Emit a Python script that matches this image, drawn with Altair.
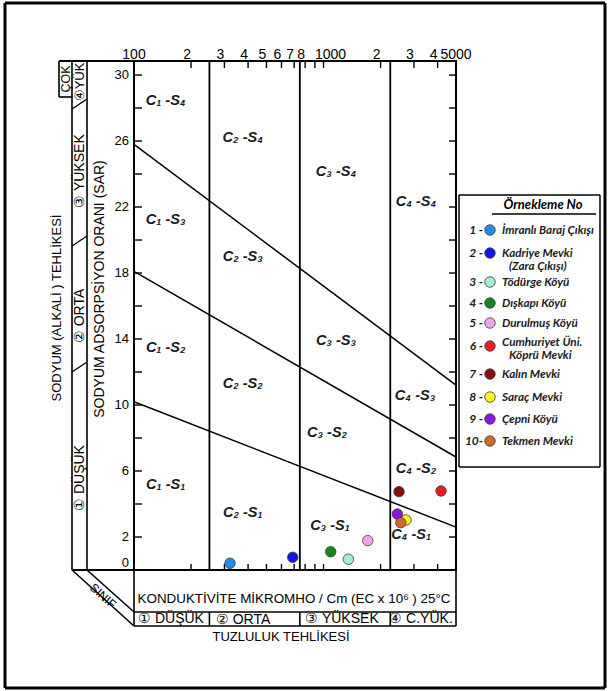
import altair as alt
import pandas as pd

# ---------------- values ----------------
sample_no = [1, 2, 3, 4, 5, 6, 7, 8, 9, 10]
site_names = ["İmranlı Baraj Çıkışı", "Kadriye Mevki (Zara Çıkışı)", "Tödürge Köyü",
              "Dışkapı Köyü", "Durulmuş Köyü", "Cumhuriyet Üni. Köprü Mevki",
              "Kalın Mevki", "Saraç Mevki", "Çepni Köyü", "Tekmen Mevki"]
legend_line1 = ["İmranlı Baraj Çıkışı", "Kadriye Mevki", "Tödürge Köyü", "Dışkapı Köyü",
                "Durulmuş Köyü", "Cumhuriyet Üni.", "Kalın Mevki", "Saraç Mevki",
                "Çepni Köyü", "Tekmen Mevki"]
legend_line2 = ["", "(Zara Çıkışı)", "", "", "", "Köprü Mevki", "", "", "", ""]
ec_values = [321, 688, 1352, 1091, 1711, 4169, 2502, 2725, 2451, 2556]
sar_values = [0.41, 0.77, 0.65, 1.11, 1.78, 4.79, 4.75, 3.03, 3.39, 2.87]
site_colors = ["#1f8fe6", "#1414e6", "#a2f0d2", "#14891d", "#f2a2ef",
               "#ee1c1c", "#8c0b0b", "#fbf41f", "#8a16e0", "#cf6a2c"]

salinity_bounds = [250, 750, 2250]
sodium_line_ec = [100, 5000]
s1_s2_sar = [10.2, 2.6]
s2_s3_sar = [18.1, 6.85]
s3_s4_sar = [25.8, 11.2]

zone_labels = ["C₁ -S₄", "C₂ -S₄", "C₃ -S₄", "C₄ -S₄",
               "C₁ -S₃", "C₂ -S₃", "C₃ -S₃", "C₄ -S₃",
               "C₁ -S₂", "C₂ -S₂", "C₃ -S₂", "C₄ -S₂",
               "C₁ -S₁", "C₂ -S₁", "C₃ -S₁", "C₄ -S₁"]
zone_ec = [147, 375, 1164, 3077,
           147, 375, 1164, 3040,
           147, 375, 1043, 3077,
           147, 375, 1082, 2897]
zone_sar = [28.4, 26.2, 24.1, 22.3,
            21.2, 19.0, 13.9, 10.55,
            13.45, 11.3, 8.3, 6.12,
            5.15, 3.45, 2.67, 2.12]

top_end_values = [100, 5000]
top_end_labels = ["100", "5000"]
top_digit_values = [200, 300, 400, 500, 600, 700, 800, 2000, 3000, 4000]
top_digit_labels = ["2", "3", "4", "5", "6", "7", "8", "2", "3", "4"]
top_thousand_values = [1000]
top_thousand_labels = ["1000"]
minor_ec_ticks = [200, 300, 400, 500, 600, 700, 800, 900, 1000, 2000, 3000, 4000]
bottom_label_values = [100, 250, 750, 2250]
sar_tick_values = [2, 4, 6, 8, 10, 12, 14, 16, 18, 20, 22, 24, 26, 28, 30]
sar_label_values = [2, 6, 10, 14, 18, 22, 26, 30]
sar_label_text = ["2", "6", "10", "14", "18", "22", "26", "30"]
sar_zero_value = [0]
sar_zero_text = ["0"]

# ---------------- layout ----------------
W, H = 322, 509          # plot area
L, T = 134, 61           # plot origin in the page
FONT = "Liberation Sans"
LFONT = "Lato"

xs = alt.Scale(type="log", domain=[100, 5000], nice=False)
ys = alt.Scale(domain=[0, 30.85], nice=False, zero=False)


def rx(ax):
    return ax - L


def ry(ay):
    return ay - T


def label(text, ax, ay, size=13, angle=0, align="center", font=FONT,
          style="normal", weight="normal", color="black"):
    return alt.Chart(pd.DataFrame({"t": [text]})).mark_text(
        fontSize=size, angle=angle, align=align, baseline="middle", font=font,
        fontStyle=style, fontWeight=weight, color=color
    ).encode(x=alt.value(rx(ax)), y=alt.value(ry(ay)), text="t:N")


# --- decorative frame segments (page pixel coordinates) ---
segs = [
    # outer frame
    (5, 3, 605, 3, 3), (5, 688, 605, 688, 3), (5, 3, 5, 688, 3), (605, 3, 605, 688, 3),
    # left sodium panel
    (59, 61, 134, 61, 2), (59, 61, 59, 97, 1.6), (59, 97, 72, 97, 1.6),
    (72, 61, 72, 570, 1.6), (87, 61, 87, 570, 1.6), (72, 570, 134, 570, 2),
    (72, 570, 134, 626, 1.6), (87, 570, 134, 612, 1.6),
    (72, 109, 87, 99, 1.4), (72, 246, 87, 236, 1.4), (72, 372, 87, 362, 1.4),
    # bottom salinity panel
    (134, 570, 134, 626, 1.6), (456, 570, 456, 626, 1.6),
    (134, 612, 456, 612, 1.6), (134, 626, 456, 626, 1.6),
    # legend box
    (459, 195, 600, 195, 1.5), (459, 467, 600, 467, 1.5),
    (459, 195, 459, 467, 1.5), (600, 195, 600, 467, 1.5),
    (492, 214, 596, 214, 1.3),
]
seg_df = pd.DataFrame([{"x": rx(a), "y": ry(b), "x2": rx(c), "y2": ry(d), "w": w}
                       for a, b, c, d, w in segs])
frame = alt.Chart(seg_df).mark_rule(color="black").encode(
    x=alt.X("x:Q", scale=None, axis=None), x2="x2:Q",
    y=alt.Y("y:Q", scale=None, axis=None), y2="y2:Q",
    strokeWidth=alt.StrokeWidth("w:Q", scale=None),
)

# --- salinity class boundaries (with bottom axis) ---
bounds_df = pd.DataFrame({"ec": salinity_bounds})
bounds = alt.Chart(bounds_df).mark_rule(color="black", strokeWidth=1.8).encode(
    x=alt.X("ec:Q", scale=xs,
            axis=alt.Axis(orient="bottom", values=bottom_label_values, format="d",
                          title=None, labelFontSize=13, labelPadding=3,
                          labelFlush=True, labelOverlap=False)),
)
bounds_row = alt.Chart(bounds_df).mark_rule(color="black", strokeWidth=1.6).encode(
    x=alt.X("ec:Q", scale=xs, axis=None),
    y=alt.value(ry(612)), y2=alt.value(ry(626)),
)

# --- sodium hazard lines ---
lines_df = pd.DataFrame({
    "line": ["S1/S2"] * 2 + ["S2/S3"] * 2 + ["S3/S4"] * 2,
    "ec": sodium_line_ec * 3,
    "sar": s1_s2_sar + s2_s3_sar + s3_s4_sar,
})
sod_lines = alt.Chart(lines_df).mark_line(color="black", strokeWidth=1.5).encode(
    x=alt.X("ec:Q", scale=xs, axis=None),
    y=alt.Y("sar:Q", scale=ys, axis=None),
    detail="line:N",
)

# --- ticks (inward) ---
ec_ticks_df = pd.DataFrame({"ec": minor_ec_ticks})
top_ticks = alt.Chart(ec_ticks_df).mark_rule(color="black", strokeWidth=1.4).encode(
    x=alt.X("ec:Q", scale=xs, axis=None),
    y=alt.value(0), y2=alt.value(7),
)
bottom_ticks = alt.Chart(ec_ticks_df).mark_rule(color="black", strokeWidth=1.4).encode(
    x=alt.X("ec:Q", scale=xs, axis=None),
    y=alt.value(H), y2=alt.value(H - 6),
)
sar_ticks_df = pd.DataFrame({"sar": sar_tick_values})
left_ticks = alt.Chart(sar_ticks_df).mark_rule(color="black", strokeWidth=1.4).encode(
    y=alt.Y("sar:Q", scale=ys, axis=None),
    x=alt.value(0), x2=alt.value(8),
)
right_ticks = alt.Chart(sar_ticks_df).mark_rule(color="black", strokeWidth=1.4).encode(
    y=alt.Y("sar:Q", scale=ys, axis=None),
    x=alt.value(W), x2=alt.value(W - 7),
)


# --- top tick labels (through the x scale) ---
def top_labels(values, texts, dx):
    df = pd.DataFrame({"ec": values, "t": texts})
    return alt.Chart(df).mark_text(
        font=FONT, fontSize=14, baseline="alphabetic", align="center", dx=dx,
        color="black"
    ).encode(x=alt.X("ec:Q", scale=xs, axis=None), y=alt.value(-2), text="t:N")


top_lab_layers = [
    top_labels(top_end_values, top_end_labels, 0),
    top_labels(top_digit_values, top_digit_labels, -4),
    top_labels(top_thousand_values, top_thousand_labels, 7),
]


# --- SAR labels (through the y scale) ---
def sar_labels(values, texts, dy):
    df = pd.DataFrame({"sar": values, "t": texts})
    return alt.Chart(df).mark_text(
        font=FONT, fontSize=13, align="right", baseline="middle", dy=dy, color="black"
    ).encode(x=alt.value(-5), y=alt.Y("sar:Q", scale=ys, axis=None), text="t:N")


sar_lab_layers = [
    sar_labels(sar_label_values, sar_label_text, 0),
    sar_labels(sar_zero_value, sar_zero_text, -7),
]

# --- zone labels ---
zones_df = pd.DataFrame({"t": zone_labels, "ec": zone_ec, "sar": zone_sar})
zones = alt.Chart(zones_df).mark_text(
    font=FONT, fontSize=14.5, fontStyle="italic", fontWeight="bold", color="#1a1a1a"
).encode(x=alt.X("ec:Q", scale=xs, axis=None),
         y=alt.Y("sar:Q", scale=ys, axis=None), text="t:N")

# --- sample points ---
pts_df = pd.DataFrame({"no": sample_no, "site": site_names,
                       "ec": ec_values, "sar": sar_values})
color_scale = alt.Scale(domain=site_names, range=site_colors)
points = alt.Chart(pts_df).mark_circle(size=110, opacity=1, stroke="#3a3a3a",
                                       strokeWidth=0.8).encode(
    x=alt.X("ec:Q", scale=xs, axis=None),
    y=alt.Y("sar:Q", scale=ys, axis=None),
    color=alt.Color("site:N", scale=color_scale, legend=None),
    order=alt.Order("no:Q"),
)

# --- hand-drawn legend ---
row_y = [230, 253, 282, 303, 323, 346, 374, 397, 419, 441]
line1_y = [230, 253, 282, 303, 323, 342, 374, 397, 419, 441]
line2_y = [230, 266, 282, 303, 323, 355, 374, 397, 419, 441]
leg_df = pd.DataFrame({
    "no": sample_no, "site": site_names,
    "num": [f"{n} -" if n < 10 else f"{n}-" for n in sample_no],
    "l1": legend_line1, "l2": legend_line2,
    "cx": [rx(490)] * 10, "nx": [rx(483)] * 10, "tx": [rx(502)] * 10, "tx2": [rx(509)] * 10,
    "cy": [ry(v) for v in row_y], "y1": [ry(v) for v in line1_y],
    "y2": [ry(v) for v in line2_y],
})
leg_pts = alt.Chart(leg_df).mark_circle(size=110, opacity=1, stroke="#3a3a3a",
                                        strokeWidth=0.8).encode(
    x=alt.X("cx:Q", scale=None, axis=None), y=alt.Y("cy:Q", scale=None, axis=None),
    color=alt.Color("site:N", scale=color_scale, legend=None),
)
leg_num = alt.Chart(leg_df).mark_text(
    font=LFONT, fontSize=12, fontStyle="italic", fontWeight="bold", align="right",
    color="#1a1a1a"
).encode(x=alt.X("nx:Q", scale=None, axis=None), y=alt.Y("cy:Q", scale=None, axis=None),
         text="num:N")
leg_t1 = alt.Chart(leg_df).mark_text(
    font=LFONT, fontSize=11.7, fontStyle="italic", fontWeight="bold", align="left",
    color="#1a1a1a"
).encode(x=alt.X("tx:Q", scale=None, axis=None), y=alt.Y("y1:Q", scale=None, axis=None),
         text="l1:N")
leg_t2 = alt.Chart(leg_df[leg_df["l2"] != ""]).mark_text(
    font=LFONT, fontSize=11.7, fontStyle="italic", fontWeight="bold", align="left",
    color="#1a1a1a"
).encode(x=alt.X("tx2:Q", scale=None, axis=None), y=alt.Y("y2:Q", scale=None, axis=None),
         text="l2:N")

texts = [
    label("Örnekleme No", 543, 205, size=13, font=LFONT, style="italic", weight="bold"),
    label("KONDUKTİVİTE MİKROMHO / Cm (EC x 10⁶ ) 25°C", 294, 599, size=13.4),
    label("① DÜŞÜK", 171, 619, size=14),
    label("② ORTA", 243, 620, size=14),
    label("③ YÜKSEK", 342, 619, size=14),
    label("④ C.YÜK.", 421, 619, size=14),
    label("TUZLULUK TEHLİKESİ", 281, 637, size=13),
    label("SINIF", 103, 596, size=12, angle=42),
    label("SODYUM  (ALKALİ ) TEHLİKESİ", 57, 308, size=13, angle=270),
    label("SODYUM  ADSORPSİYON ORANI (SAR)", 100, 289, size=14, angle=270),
    label("ÇOK", 66, 79, size=12.5, angle=270),
    label("④YÜK", 80, 82, size=13, angle=270),
    label("③ YÜKSEK", 80, 171, size=14, angle=270),
    label("② ORTA", 80, 316, size=14, angle=270),
    label("① DÜŞÜK", 80, 478, size=14, angle=270),
]

chart = alt.layer(
    bounds, bounds_row, sod_lines, top_ticks, bottom_ticks, left_ticks, right_ticks,
    *top_lab_layers, *sar_lab_layers, zones, points, frame, leg_pts, leg_num, leg_t1,
    leg_t2, *texts
).properties(
    width=W, height=H,
    autosize=alt.AutoSizeParams(type="none"),
    padding={"left": L, "top": T, "right": 608 - L - W, "bottom": 691 - T - H},
    background="white",
).configure_view(
    stroke="black", strokeWidth=2
).configure_axis(
    labelFont=FONT, labelColor="black", grid=False, domain=False, ticks=False
)

chart.save("out.html", embed_options={"renderer": "svg", "actions": False})
